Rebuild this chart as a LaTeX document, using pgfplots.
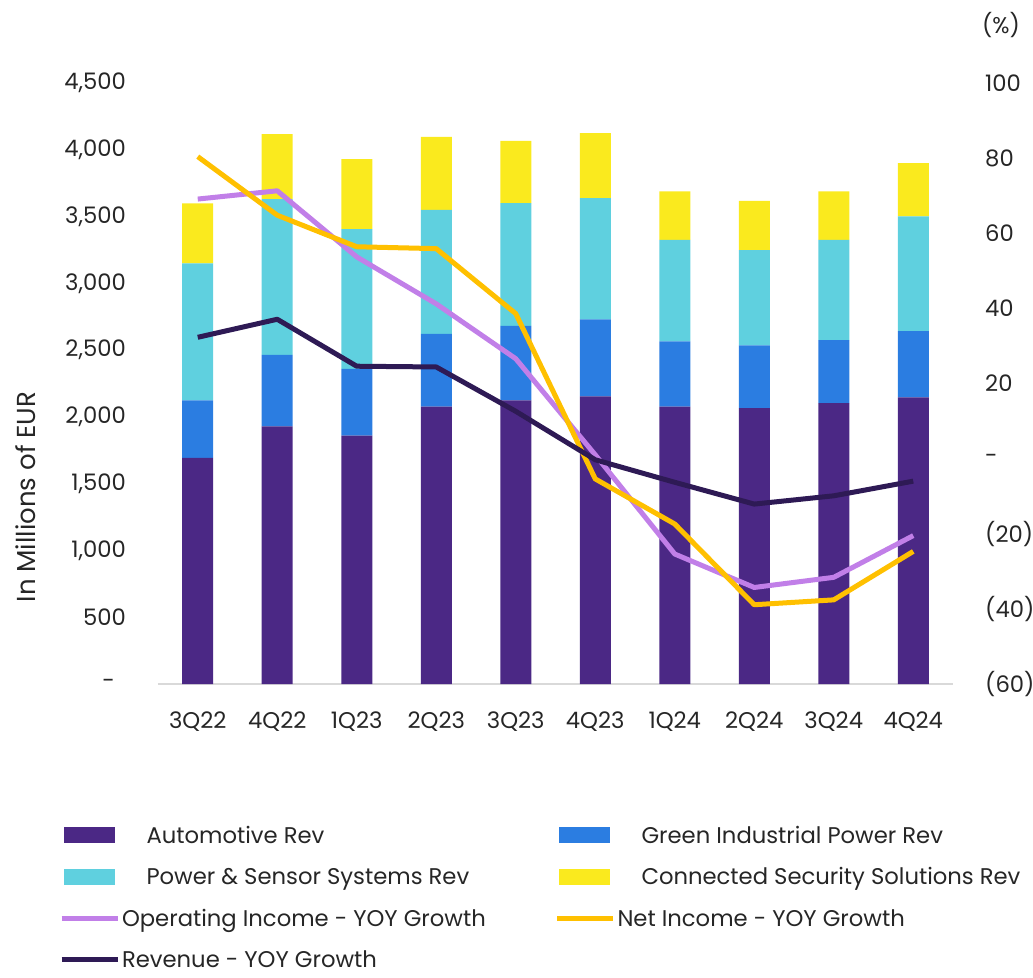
\documentclass[border=0pt]{standalone}
\usepackage{pgfplots}
\usepackage{pgfplotstable}
\pgfplotsset{compat=1.18}
\usepackage{fontspec}
\setmainfont{Poppins}
\definecolor{colAuto}{HTML}{4B2885}
\definecolor{colGip}{HTML}{2B7DE1}
\definecolor{colPss}{HTML}{5FD0DF}
\definecolor{colCss}{HTML}{FAEA1E}
\definecolor{colOp}{HTML}{C17FE8}
\definecolor{colNet}{HTML}{FFC000}
\definecolor{colRev}{HTML}{2E1A55}
\newcommand{\fs}{\fontsize{22.7}{26}\selectfont}
\newcommand{\fl}{\fontsize{26}{30}\selectfont}
\newcommand{\barimg}[1]{\fill[#1, draw=none] (3pt,-7pt) rectangle (54pt,9pt); \path[draw=none, fill=none] (0pt,0pt) rectangle (61.5pt,0.1pt);}
\newcommand{\lineimg}[1]{\draw[#1, line width=5pt] (1pt,1pt) -- (57pt,1pt); \path[draw=none, fill=none] (0pt,0pt) rectangle (61.5pt,0.1pt);}

\pgfplotstableread{
x auto gip pss css
0 1694 429 1026 449
1 1929 536 1165 487
2 1859 501 1046 524
3 2076 546 928 547
4 2123 559 918 467
5 2153 577 908 486
6 2076 489 761 362
7 2066 469 714 369
8 2103 472 751 362
9 2146 496 859 399
}\bars

\pgfplotstableread{
x op net rev
0 69.1 80.4 32.3
1 71.3 64.8 37.1
2 53.7 56.4 24.6
3 41.2 55.9 24.4
4 26.6 38.6 12.6
5 1.0 -5.4 -0.3
6 -25.4 -17.4 -6.3
7 -34.3 -38.9 -12.1
8 -31.6 -37.6 -9.9
9 -20.5 -24.7 -6.0
}\lines

\begin{document}
\begin{tikzpicture}[font=\fs]
\path[use as bounding box] (-158pt,-293pt) rectangle (875pt,684pt);
\begin{axis}[
  at={(0pt,0pt)}, anchor=south west,
  scale only axis, width=795pt, height=601pt,
  xmin=-0.5, xmax=9.5, ymin=0, ymax=4500,
  ybar stacked, bar width=31pt,
  axis x line*=bottom, axis y line*=left,
  x axis line style={draw=black!15, line width=1.2pt},
  y axis line style={draw=none},
  xtick={0,...,9},
  xticklabels={3Q22,4Q22,1Q23,2Q23,3Q23,4Q23,1Q24,2Q24,3Q24,4Q24},
  ytick={0,500,...,4500},
  yticklabels={-\hspace*{11pt},500,{1,000},{1,500},{2,000},{2,500},{3,000},{3,500},{4,000},{4,500}},
  major tick length=0pt, tick style={draw=none},
  /pgf/number format/assume math mode=true,
  tick label style={font=\fs, text=black!85},
  yticklabel style={anchor=east, inner sep=0pt, xshift=-32pt},
  xticklabel style={anchor=north, inner sep=0pt, yshift=-28pt},
  ylabel={In Millions of EUR},
  label style={font=\fl, text=black!85},
  ylabel style={at={(axis description cs:-0.167,0.311)}, anchor=center},
]
\addplot[fill=colAuto, draw=none] table[x=x,y=auto]{\bars};
\addplot[fill=colGip, draw=none] table[x=x,y=gip]{\bars};
\addplot[fill=colPss, draw=none] table[x=x,y=pss]{\bars};
\addplot[fill=colCss, draw=none] table[x=x,y=css]{\bars};
\end{axis}
\begin{axis}[
  at={(0pt,0pt)}, anchor=south west,
  scale only axis, width=795pt, height=601pt,
  xmin=-0.5, xmax=9.5, ymin=-60, ymax=100,
  axis x line=none, axis y line*=right,
  y axis line style={draw=none},
  ytick={-60,-40,...,100},
  yticklabels={(60),(40),(20),-,20,40,60,80,100},
  major tick length=0pt, tick style={draw=none},
  /pgf/number format/assume math mode=true,
  tick label style={font=\fs, text=black!85},
  yticklabel style={anchor=west, inner sep=0pt, xshift=32pt},
  ylabel={(\%)},
  label style={font=\fs, text=black!85},
  ylabel style={at={(axis description cs:1.0604,1.0965)}, anchor=center, rotate=-90},
  legend columns=2, legend cell align=left,
  legend style={at={(axis description cs:-0.1245,-0.2380)}, anchor=north west,
    draw=none, fill=none, inner sep=0pt, outer sep=0pt, column sep=0pt, row sep=23.5pt,
    nodes={inner sep=0pt, text height=16pt, text depth=2pt, font=\fs, text=black!85}},
]
\addlegendimage{legend image code/.code={\barimg{colAuto}}}
\addlegendentry{\makebox[432.5pt][l]{\hspace*{24.5pt}Automotive Rev}}
\addlegendimage{legend image code/.code={\barimg{colGip}}}
\addlegendentry{\hspace*{24pt}Green Industrial Power Rev}
\addlegendimage{legend image code/.code={\barimg{colPss}}}
\addlegendentry{\makebox[432.5pt][l]{\hspace*{24.5pt}Power \& Sensor Systems Rev}}
\addlegendimage{legend image code/.code={\barimg{colCss}}}
\addlegendentry{\hspace*{24pt}Connected Security Solutions Rev}
\addplot[colOp, line width=5pt, line join=round, mark=none, legend image code/.code={\lineimg{colOp}}] table[x=x,y=op]{\lines};
\addlegendentry{\makebox[432.5pt][l]{Operating Income - YOY Growth}}
\addplot[colNet, line width=5pt, line join=round, mark=none, legend image code/.code={\lineimg{colNet}}] table[x=x,y=net]{\lines};
\addlegendentry{Net Income - YOY Growth}
\addplot[colRev, line width=5pt, line join=round, mark=none, legend image code/.code={\lineimg{colRev}}] table[x=x,y=rev]{\lines};
\addlegendentry{\makebox[432.5pt][l]{Revenue - YOY Growth}}
\end{axis}
\end{tikzpicture}
\end{document}
